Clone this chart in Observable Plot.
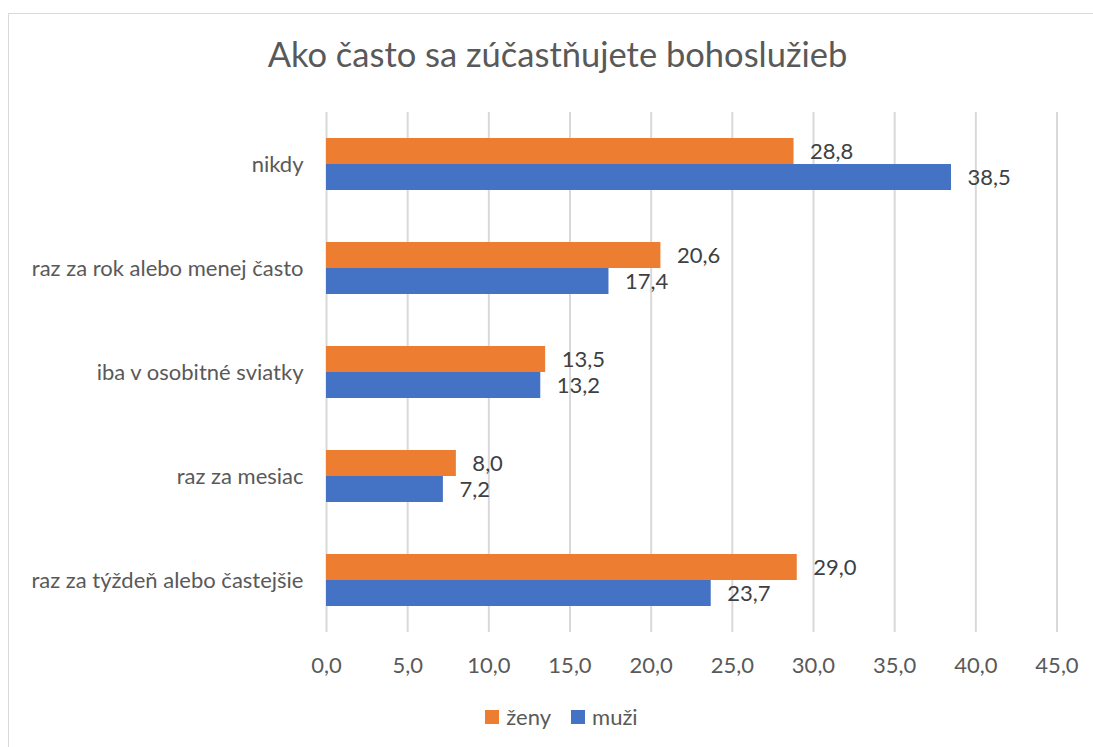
<!DOCTYPE html>
<html>
<head>
<meta charset="utf-8">
<script src="https://cdn.jsdelivr.net/npm/d3@7"></script>
<script src="https://cdn.jsdelivr.net/npm/@observablehq/plot@0.6"></script>
<style>
  body { margin: 0; background: #fff; font-family: Lato, "Open Sans", sans-serif; }
  #frame { position: absolute; left: 8px; top: 13px; width: 1200px; height: 800px; border: 1px solid #d9d9d9; box-sizing: border-box; }
  #title { position: absolute; left: 0; width: 1115px; top: 36.5px; text-align: center; font-size: 34.5px; line-height: 34.5px; color: #595959; white-space: nowrap; }
  #chart { position: absolute; left: 0; top: 0; }
  #legend { position: absolute; left: 0; width: 1123px; top: 706px; display: flex; justify-content: center; align-items: center; font-size: 22px; line-height: 22px; color: #595959; }
  .sw { display: inline-block; width: 14px; height: 14px; margin-right: 7px; }
  .item { display: flex; align-items: center; margin: 0 10px; }
</style>
</head>
<body>
<div id="frame"></div>
<div id="chart"></div>
<div id="title">Ako často sa zúčastňujete bohoslužieb</div>
<div id="legend"></div>
<script>
const categories = ["nikdy", "raz za rok alebo menej často", "iba v osobitné sviatky", "raz za mesiac", "raz za týždeň alebo častejšie"];
const series = ["ženy", "muži"];
const zeny = [28.8, 20.6, 13.5, 8.0, 29.0];
const muzi = [38.5, 17.4, 13.2, 7.2, 23.7];
const colors = ["#ED7D31", "#4472C4"];
const xTicks = [0, 5, 10, 15, 20, 25, 30, 35, 40, 45];

const fmt = v => v.toFixed(1).replace(".", ",");
const data = categories.flatMap((c, i) => [
  {cat: c, series: series[0], value: zeny[i]},
  {cat: c, series: series[1], value: muzi[i]}
]);

const gridStyle = {stroke: "#d9d9d9", strokeWidth: 2};
const chart = Plot.plot({
  width: 1093,
  height: 747,
  marginTop: 112,
  marginBottom: 115,
  marginLeft: 326,
  marginRight: 36.5,
  style: {background: "transparent", fontFamily: "Lato, 'Open Sans', sans-serif", fontSize: "22px", color: "#595959"},
  facet: {data, y: "cat"},
  fy: {domain: categories, padding: 0, label: null, tickSize: 0, tickPadding: 23},
  y: {domain: series, paddingInner: 0, paddingOuter: 0.926, axis: null},
  x: {domain: [0, 45], ticks: xTicks, tickFormat: fmt, tickSize: 0, tickPadding: 25, label: null},
  color: {domain: series, range: colors},
  marks: [
    Plot.ruleX(xTicks.filter(t => t !== 0), {x: d => d, ...gridStyle}),
    Plot.ruleX([0], {x: d => d, ...gridStyle}),
    Plot.barX(data, {x: "value", y: "series", fill: "series"}),
    Plot.text(data, {x: "value", y: "series", text: d => fmt(d.value), textAnchor: "start", dx: 16, fill: "#404040", fontSize: 22})
  ]
});
document.getElementById("chart").appendChild(chart);

const legend = document.getElementById("legend");
series.forEach((s, i) => {
  const item = document.createElement("div");
  item.className = "item";
  const sw = document.createElement("span");
  sw.className = "sw";
  sw.style.background = colors[i];
  item.appendChild(sw);
  item.appendChild(document.createTextNode(s));
  legend.appendChild(item);
});
</script>
</body>
</html>
